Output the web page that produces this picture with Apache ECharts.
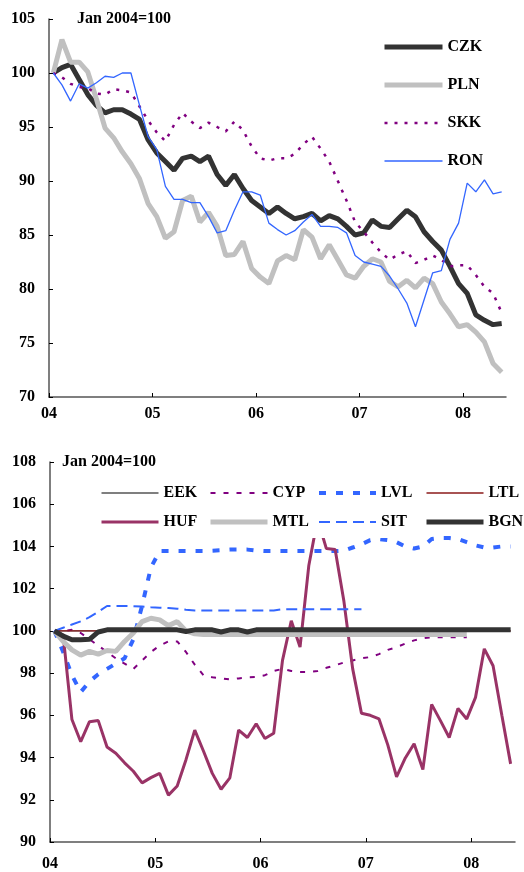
<!DOCTYPE html>
<html><head><meta charset="utf-8">
<script src="https://cdn.jsdelivr.net/npm/echarts@6/dist/echarts.min.js"></script>
<style>html,body{margin:0;padding:0;background:#fff}#c{width:524px;height:872px}</style>
</head><body><div id="c"></div>
<script>
const yearTicks = ['04','05','06','07','08'];
const yearTickMonths = [0,12,24,36,48];
// Top panel (monthly, Jan 2004 .. May 2008)
const CZK = [100.0,100.5,100.8,99.4,98.0,97.0,96.3,96.6,96.6,96.2,95.7,93.8,92.6,91.8,91.0,92.1,92.3,91.8,92.3,90.6,89.6,90.6,89.3,88.2,87.6,87.0,87.6,87.0,86.5,86.7,87.0,86.3,86.8,86.5,85.8,85.0,85.2,86.4,85.8,85.7,86.5,87.3,86.7,85.3,84.4,83.6,82.1,80.5,79.6,77.6,77.1,76.7,76.8];
const PLN = [100.0,103.1,101.0,101.0,100.1,97.6,94.9,94.0,92.7,91.6,90.2,87.9,86.7,84.7,85.3,88.2,88.6,86.2,87.1,85.8,83.1,83.2,84.4,81.9,81.1,80.5,82.6,83.1,82.7,85.5,84.8,82.8,84.1,82.7,81.3,81.0,82.1,82.8,82.5,80.7,80.2,80.8,80.1,81.0,80.5,78.8,77.7,76.5,76.7,76.0,75.1,73.1,72.3];
const SKK = [100.0,99.6,99.0,98.7,98.6,98.1,98.0,98.5,98.4,98.2,96.9,95.6,94.5,93.7,95.2,96.3,95.5,94.9,95.4,95.0,94.6,95.5,94.7,93.2,92.1,91.9,92.1,92.1,92.5,93.4,94.1,93.0,91.8,90.0,88.2,86.2,85.3,84.3,83.4,82.7,83.2,83.5,82.4,82.7,83.1,82.7,82.1,82.2,82.2,81.3,80.2,79.6,77.8];
const RON = [100.0,98.9,97.4,99.0,98.6,99.1,99.7,99.6,100.0,100.0,97.0,94.1,92.9,89.5,88.3,88.3,88.0,88.0,86.7,85.2,85.4,87.3,89.0,89.0,88.7,86.1,85.5,85.0,85.4,86.2,86.9,85.8,85.8,85.7,85.2,83.1,82.5,82.3,82.1,81.2,80.0,78.7,76.5,79.0,81.5,81.7,84.6,86.1,89.8,89.0,90.1,88.8,89.0];
// Bottom panel
const EEK = [100,100,100,100,100,100,100,100,100,100,100,100,100,100,100,100,100,100,100,100,100,100,100,100,100,100,100,100,100,100,100,100,100,100,100,100,100,100,100,100,100,100,100,100,100,100,100,100,100,100,100,100,100];
const CYP = [100.0,100.0,100.05,99.9,99.6,99.3,99.0,98.7,98.45,98.2,98.6,99.0,99.3,99.5,99.5,99.0,98.4,97.9,97.8,97.75,97.7,97.75,97.8,97.82,97.9,98.1,98.2,98.1,98.05,98.05,98.1,98.25,98.37,98.5,98.6,98.7,98.76,98.9,99.1,99.23,99.4,99.55,99.65,99.7,99.7,99.7,99.7,99.7];
const LVL = [100,99.0,97.9,97.1,97.6,97.95,98.2,98.45,98.7,99.6,101.2,103.0,103.78,103.78,103.78,103.78,103.78,103.78,103.8,103.82,103.85,103.85,103.85,103.8,103.78,103.78,103.78,103.78,103.78,103.78,103.78,103.78,103.78,103.8,103.95,104.1,104.3,104.35,104.3,104.2,104.0,103.9,104.0,104.35,104.4,104.4,104.35,104.2,104.05,103.95,103.95,104.0,104.0];
const LTL = [100,100,100,100,100,100,100,100,100,100,100,100,100,100,100,100,100,100,100,100,100,100,100,100,100,100,100,100,100,100,100,100,100,100,100,100,100,100,100,100,100,100,100,100,100,100,100,100,100,100,100,100,100];
const HUF = [100.0,99.8,95.8,94.75,95.7,95.75,94.5,94.2,93.75,93.35,92.8,93.05,93.25,92.22,92.65,93.9,95.3,94.3,93.25,92.5,93.04,95.3,94.95,95.6,94.9,95.15,98.6,100.48,99.23,103.1,105.3,103.9,103.86,101.4,98.2,96.1,96.0,95.83,94.6,93.08,93.98,94.65,93.43,96.52,95.75,94.95,96.33,95.83,96.85,99.15,98.35,96.0,93.7];
const MTL = [100,99.5,99.1,98.85,99.03,98.9,99.07,99.03,99.5,99.9,100.44,100.6,100.52,100.25,100.44,100.0,99.86,99.83,99.83,99.83,99.83,99.83,99.83,99.83,99.83,99.83,99.83,99.83,99.83,99.83,99.83,99.83,99.83,99.83,99.83,99.83,99.83,99.83,99.83,99.83,99.83,99.83,99.83,99.83,99.83,99.83,99.83,99.83];
const SIT = [100,100.15,100.3,100.45,100.65,100.9,101.18,101.18,101.18,101.17,101.15,101.12,101.1,101.08,101.05,101.0,100.97,100.96,100.96,100.96,100.96,100.96,100.96,100.96,100.96,100.97,101.03,101.03,101.03,101.03,101.03,101.03,101.03,101.03,101.03,101.03];
const BGN = [100,99.75,99.58,99.58,99.6,99.95,100.05,100.05,100.05,100.05,100.05,100.05,100.05,100.05,100.05,99.97,100.05,100.05,100.05,99.95,100.05,100.05,99.95,100.05,100.05,100.05,100.05,100.05,100.05,100.05,100.05,100.05,100.05,100.05,100.05,100.05,100.05,100.05,100.05,100.05,100.05,100.05,100.05,100.05,100.05,100.05,100.05,100.05,100.05,100.05,100.05,100.05,100.05];

const FONT = "'Liberation Serif','Times New Roman',serif";
const txt = {fontFamily: FONT, fontWeight: 'bold', fontSize: 16, color: '#000'};
// monthly averages are plotted mid-month
function pts(arr){ return arr.map((v,i)=>[i+0.5, v]); }

function xAxis(idx, margin){
  return {type:'value', gridIndex: idx, min:0, max:53,
    axisLine:{show:true, onZero:false, lineStyle:{color:'#555', width:1.5}},
    axisTick:{show:true, inside:true, length:4, customValues: yearTickMonths, lineStyle:{color:'#000', width:1}},
    axisLabel:{customValues: yearTickMonths, margin: margin, formatter: v => yearTicks[Math.round(v/12)], ...txt},
    splitLine:{show:false}};
}
function yAxis(idx, min, max, interval){
  return {type:'value', gridIndex: idx, min, max, interval,
    axisLine:{show:true, lineStyle:{color:'#555', width:1.5}},
    axisTick:{show:true, inside:true, length:4, lineStyle:{color:'#000', width:1}},
    axisLabel:{margin:14, ...txt},
    splitLine:{show:false}};
}
function line(name, data, axis, color, width, type){
  return {name, type:'line', xAxisIndex: axis, yAxisIndex: axis, data: pts(data),
    symbol:'none', showSymbol:false,
    lineStyle:{color, width, type: type || 'solid', cap:'butt'}, itemStyle:{color}};
}

const chart = echarts.init(document.getElementById('c'), null, {renderer:'canvas'});
const legendLine = {width:'inherit', type:'inherit', color:'inherit'};
const legendBase = {orient:'vertical', itemWidth:57, itemHeight:14, itemGap:13, textStyle: txt, padding:[5,5,8,5],
  itemStyle:{opacity:0}, lineStyle: legendLine};
chart.setOption({
  animation:false,
  backgroundColor:'#fff',
  title:[
    {text:'Jan 2004=100', left:72, top:6, textStyle:{...txt, fontSize:16}},
    {text:'Jan 2004=100', left:57, top:449, textStyle:{...txt, fontSize:16}}
  ],
  grid:[
    {left:49, right:18, top:19, height:378},
    {left:50, right:9, top:462, height:382}
  ],
  xAxis:[xAxis(0, 9), xAxis(1, 14)],
  yAxis:[yAxis(0,70,105,5), yAxis(1,90,108,2)],
  legend:[
    {data:['CZK','PLN','SKK','RON'], left:377, top:34, orient:'vertical', itemWidth:58, itemHeight:14, itemGap:22, textStyle: txt, padding:5, itemStyle:{opacity:0}, lineStyle: legendLine},
    {...legendBase, data:['EEK','HUF'], left:95, top:480},
    {...legendBase, data:['CYP','MTL'], left:203, top:480},
    {...legendBase, data:['LVL','SIT'], left:312, top:480, backgroundColor:'#fff'},
    {...legendBase, data:['LTL','BGN'], left:419, top:480}
  ],
  series:[
    line('CZK', CZK, 0, '#333333', 5),
    line('PLN', PLN, 0, '#c0c0c0', 5),
    line('SKK', SKK, 0, '#800080', 2.5, [3,7]),
    line('RON', RON, 0, '#3366ff', 1.3),
    line('EEK', EEK, 1, '#555555', 1.3),
    line('CYP', CYP, 1, '#800080', 2, [5,8]),
    line('LVL', LVL, 1, '#3366ff', 4, [7,10]),
    line('LTL', LTL, 1, '#8b1a1a', 1.3),
    line('HUF', HUF, 1, '#993366', 3),
    line('MTL', MTL, 1, '#c0c0c0', 5),
    line('SIT', SIT, 1, '#3366ff', 2, [11,6]),
    line('BGN', BGN, 1, '#333333', 5)
  ]
});
</script>
</body></html>
